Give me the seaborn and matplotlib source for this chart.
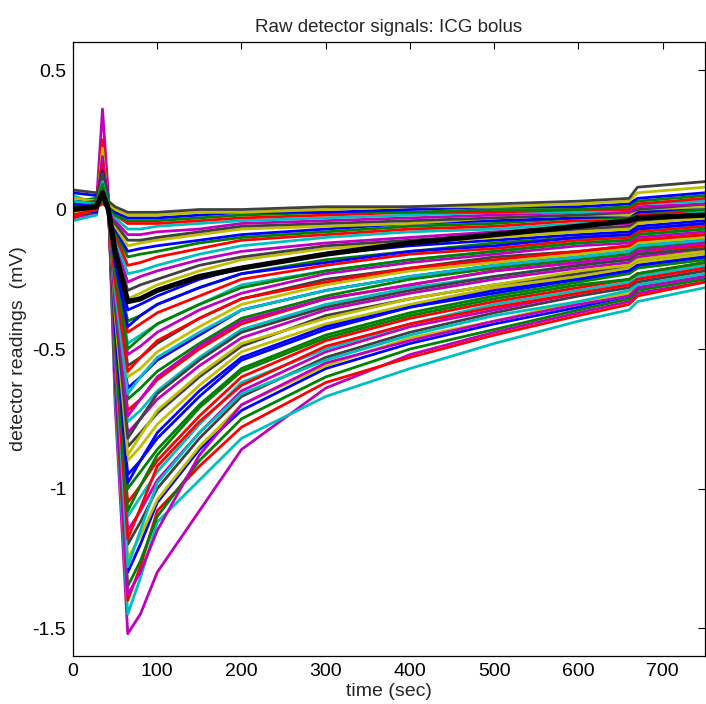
import numpy as np
import pandas as pd
import matplotlib
matplotlib.use("Agg")
import matplotlib.pyplot as plt
import seaborn as sns

time_sec = [0, 28, 35, 42, 50, 65, 80, 100, 150, 200, 300, 400, 500, 600, 660, 670, 750]

# detector readings (mV), one list per detector
traces = [
    [0.02, 0.03, 0.36, 0.05, -0.70, -1.52, -1.45, -1.30, -1.08, -0.86, -0.64, -0.52, -0.44, -0.37, -0.33, -0.30, -0.26],
    [-0.04, -0.02, 0.22, 0.02, -0.66, -1.45, -1.32, -1.12, -0.97, -0.82, -0.67, -0.57, -0.48, -0.40, -0.36, -0.33, -0.28],
    [0.01, 0.02, 0.25, 0.03, -0.62, -1.40, -1.28, -1.08, -0.92, -0.78, -0.62, -0.53, -0.45, -0.38, -0.34, -0.31, -0.26],
    [0.00, 0.03, 0.20, 0.02, -0.60, -1.35, -1.26, -1.10, -0.90, -0.75, -0.60, -0.50, -0.43, -0.36, -0.32, -0.29, -0.25],
    [0.03, 0.01, 0.18, 0.04, -0.58, -1.30, -1.20, -1.05, -0.86, -0.72, -0.57, -0.48, -0.41, -0.35, -0.31, -0.28, -0.24],
    [-0.02, 0.00, 0.22, 0.01, -0.56, -1.25, -1.17, -1.04, -0.85, -0.70, -0.56, -0.46, -0.40, -0.33, -0.30, -0.27, -0.23],
    [0.02, 0.04, 0.15, 0.03, -0.54, -1.20, -1.12, -1.00, -0.82, -0.67, -0.53, -0.44, -0.37, -0.31, -0.28, -0.26, -0.22],
    [-0.03, -0.01, 0.19, 0.00, -0.52, -1.15, -1.08, -0.97, -0.80, -0.65, -0.51, -0.42, -0.36, -0.30, -0.27, -0.25, -0.21],
    [0.04, 0.02, 0.14, 0.04, -0.50, -1.10, -1.03, -0.94, -0.77, -0.62, -0.50, -0.41, -0.34, -0.29, -0.26, -0.24, -0.20],
    [0.01, 0.00, 0.17, 0.02, -0.47, -1.05, -0.99, -0.90, -0.74, -0.60, -0.47, -0.39, -0.33, -0.28, -0.25, -0.23, -0.19],
    [-0.01, 0.02, 0.12, 0.01, -0.45, -1.00, -0.94, -0.86, -0.70, -0.57, -0.45, -0.37, -0.31, -0.26, -0.23, -0.21, -0.18],
    [0.03, 0.01, 0.16, 0.03, -0.43, -0.95, -0.90, -0.82, -0.67, -0.54, -0.43, -0.35, -0.30, -0.25, -0.22, -0.20, -0.17],
    [0.00, 0.03, 0.13, 0.02, -0.41, -0.90, -0.85, -0.77, -0.63, -0.51, -0.41, -0.34, -0.28, -0.24, -0.21, -0.19, -0.16],
    [-0.02, -0.01, 0.15, 0.00, -0.38, -0.85, -0.80, -0.73, -0.60, -0.49, -0.38, -0.32, -0.27, -0.23, -0.20, -0.18, -0.15],
    [0.02, 0.02, 0.11, 0.03, -0.36, -0.80, -0.75, -0.68, -0.56, -0.46, -0.36, -0.30, -0.25, -0.21, -0.19, -0.17, -0.14],
    [0.01, 0.00, 0.14, 0.01, -0.34, -0.76, -0.72, -0.65, -0.53, -0.43, -0.34, -0.28, -0.24, -0.20, -0.18, -0.16, -0.13],
    [-0.03, 0.01, 0.10, 0.02, -0.32, -0.72, -0.68, -0.61, -0.50, -0.41, -0.32, -0.27, -0.22, -0.19, -0.17, -0.15, -0.13],
    [0.03, 0.02, 0.12, 0.02, -0.31, -0.68, -0.64, -0.58, -0.48, -0.39, -0.31, -0.25, -0.21, -0.18, -0.16, -0.14, -0.12],
    [0.00, -0.01, 0.09, 0.00, -0.29, -0.64, -0.60, -0.54, -0.45, -0.36, -0.29, -0.24, -0.20, -0.17, -0.15, -0.13, -0.11],
    [0.02, 0.03, 0.11, 0.03, -0.27, -0.60, -0.57, -0.51, -0.42, -0.34, -0.27, -0.22, -0.19, -0.16, -0.14, -0.12, -0.10],
    [-0.01, 0.01, 0.08, 0.01, -0.25, -0.56, -0.53, -0.48, -0.39, -0.32, -0.25, -0.21, -0.17, -0.15, -0.13, -0.11, -0.09],
    [0.02, 0.00, 0.10, 0.02, -0.23, -0.52, -0.49, -0.44, -0.36, -0.30, -0.23, -0.19, -0.16, -0.13, -0.12, -0.10, -0.08],
    [0.04, 0.02, 0.07, 0.03, -0.22, -0.48, -0.45, -0.41, -0.34, -0.27, -0.22, -0.18, -0.15, -0.12, -0.11, -0.09, -0.07],
    [-0.02, 0.00, 0.09, 0.00, -0.20, -0.44, -0.41, -0.37, -0.31, -0.25, -0.20, -0.16, -0.14, -0.11, -0.10, -0.08, -0.06],
    [0.01, 0.02, 0.06, 0.02, -0.18, -0.40, -0.38, -0.34, -0.28, -0.23, -0.18, -0.15, -0.12, -0.10, -0.09, -0.07, -0.05],
    [0.03, 0.01, 0.08, 0.02, -0.16, -0.36, -0.34, -0.31, -0.25, -0.21, -0.16, -0.13, -0.11, -0.09, -0.08, -0.06, -0.04],
    [0.00, 0.03, 0.06, 0.01, -0.14, -0.32, -0.30, -0.27, -0.22, -0.18, -0.14, -0.12, -0.10, -0.08, -0.07, -0.05, -0.03],
    [-0.01, 0.01, 0.07, 0.00, -0.13, -0.29, -0.27, -0.25, -0.20, -0.17, -0.13, -0.11, -0.09, -0.07, -0.06, -0.04, -0.02],
    [0.02, 0.00, 0.05, 0.02, -0.12, -0.26, -0.24, -0.22, -0.18, -0.15, -0.12, -0.10, -0.08, -0.06, -0.05, -0.03, -0.02],
    [0.04, 0.03, 0.06, 0.03, -0.10, -0.23, -0.22, -0.20, -0.16, -0.13, -0.10, -0.08, -0.07, -0.05, -0.04, -0.02, -0.01],
    [0.00, 0.02, 0.04, 0.01, -0.09, -0.20, -0.19, -0.17, -0.14, -0.11, -0.09, -0.07, -0.06, -0.04, -0.04, -0.02, 0.00],
    [-0.02, 0.00, 0.05, 0.00, -0.08, -0.17, -0.16, -0.15, -0.12, -0.10, -0.08, -0.06, -0.05, -0.03, -0.03, -0.01, 0.00],
    [0.03, 0.02, 0.04, 0.02, -0.07, -0.15, -0.14, -0.13, -0.11, -0.09, -0.07, -0.05, -0.04, -0.03, -0.02, -0.01, 0.01],
    [0.01, 0.04, 0.05, 0.02, -0.06, -0.13, -0.12, -0.11, -0.09, -0.07, -0.06, -0.05, -0.03, -0.02, -0.02, 0.00, 0.01],
    [-0.01, 0.01, 0.03, 0.00, -0.05, -0.11, -0.11, -0.10, -0.08, -0.06, -0.05, -0.04, -0.03, -0.02, -0.01, 0.00, 0.02],
    [0.02, 0.03, 0.04, 0.02, -0.04, -0.09, -0.09, -0.08, -0.07, -0.05, -0.04, -0.03, -0.02, -0.01, -0.01, 0.01, 0.02],
    [0.05, 0.02, 0.03, 0.02, -0.03, -0.07, -0.07, -0.06, -0.05, -0.04, -0.03, -0.02, -0.01, -0.01, 0.00, 0.02, 0.03],
    [0.00, 0.01, 0.02, 0.01, -0.02, -0.05, -0.05, -0.05, -0.04, -0.03, -0.02, -0.01, -0.01, 0.00, 0.00, 0.02, 0.04],
    [0.03, 0.04, 0.03, 0.02, -0.02, -0.04, -0.04, -0.04, -0.03, -0.02, -0.01, -0.01, 0.00, 0.00, 0.01, 0.03, 0.05],
    [0.06, 0.05, 0.04, 0.03, -0.01, -0.03, -0.03, -0.03, -0.02, -0.01, -0.01, 0.00, 0.01, 0.01, 0.02, 0.04, 0.06],
    [0.04, 0.03, 0.05, 0.02, 0.00, -0.02, -0.02, -0.02, -0.01, -0.01, 0.00, 0.01, 0.01, 0.02, 0.03, 0.06, 0.08],
    [0.07, 0.06, 0.04, 0.03, 0.01, -0.01, -0.01, -0.01, 0.00, 0.00, 0.01, 0.01, 0.02, 0.03, 0.04, 0.08, 0.10],
    [0.00, 0.01, 0.18, 0.02, -0.55, -1.38, -1.30, -1.15, -0.88, -0.70, -0.55, -0.47, -0.40, -0.34, -0.31, -0.28, -0.24],
    [0.02, 0.00, 0.12, 0.03, -0.50, -1.28, -1.15, -0.98, -0.80, -0.66, -0.54, -0.45, -0.38, -0.33, -0.29, -0.27, -0.23],
    [-0.03, 0.01, 0.16, 0.01, -0.48, -1.18, -1.07, -0.92, -0.76, -0.63, -0.49, -0.41, -0.35, -0.30, -0.27, -0.25, -0.21],
    [0.01, 0.03, 0.11, 0.02, -0.46, -1.08, -0.99, -0.88, -0.71, -0.58, -0.46, -0.38, -0.32, -0.27, -0.25, -0.23, -0.19],
    [0.03, 0.02, 0.14, 0.02, -0.42, -0.98, -0.90, -0.80, -0.65, -0.53, -0.42, -0.35, -0.29, -0.25, -0.22, -0.20, -0.17],
    [-0.01, 0.00, 0.09, 0.01, -0.38, -0.88, -0.81, -0.72, -0.59, -0.48, -0.39, -0.32, -0.27, -0.22, -0.20, -0.18, -0.15],
    [0.02, 0.03, 0.13, 0.03, -0.35, -0.82, -0.75, -0.66, -0.54, -0.44, -0.35, -0.29, -0.24, -0.20, -0.18, -0.16, -0.14],
    [0.00, 0.01, 0.08, 0.01, -0.32, -0.74, -0.68, -0.60, -0.49, -0.40, -0.32, -0.27, -0.22, -0.19, -0.17, -0.15, -0.12],
    [0.03, 0.02, 0.10, 0.02, -0.29, -0.66, -0.60, -0.53, -0.44, -0.36, -0.29, -0.24, -0.20, -0.17, -0.15, -0.13, -0.11],
    [-0.02, 0.00, 0.07, 0.00, -0.26, -0.58, -0.53, -0.47, -0.39, -0.32, -0.26, -0.21, -0.18, -0.15, -0.13, -0.11, -0.09],
    [0.01, 0.02, 0.09, 0.02, -0.22, -0.50, -0.46, -0.41, -0.34, -0.28, -0.22, -0.18, -0.15, -0.12, -0.11, -0.09, -0.07],
    [0.02, 0.01, 0.06, 0.01, -0.19, -0.42, -0.38, -0.34, -0.28, -0.23, -0.19, -0.15, -0.13, -0.10, -0.09, -0.07, -0.05],
]

# average over all detectors (thick black line)
mean_signal = [0.00, 0.01, 0.06, 0.00, -0.15, -0.33, -0.32, -0.29, -0.24, -0.21, -0.16, -0.12, -0.09, -0.06, -0.04, -0.03, -0.02]

x_ticks = [0, 100, 200, 300, 400, 500, 600, 700]
y_ticks = [-1.5, -1, -0.5, 0, 0.5]
y_tick_labels = ["-1.5", "-1", "-0.5", "0", "0.5"]

# old matlab colour order, cycled
matlab_colors = {
    "m": (0.75, 0, 0.75), "c": (0, 0.75, 0.75), "r": (1, 0, 0),
    "g": (0, 0.5, 0), "b": (0, 0, 1), "y": (0.75, 0.75, 0), "k": (0.25, 0.25, 0.25),
}
cycle = ["m", "c", "r", "g", "b", "y", "k"]

rows = []
for i, vals in enumerate(traces):
    for t, v in zip(time_sec, vals):
        rows.append({"trace": i, "time": t, "value": v})
df = pd.DataFrame(rows)
palette = [matlab_colors[cycle[i % len(cycle)]] for i in range(len(traces))]

sns.set_style("white")
plt.rcParams["font.family"] = ["Liberation Sans", "DejaVu Sans"]

fig = plt.figure(figsize=(7.06, 7.04), dpi=100)
ax = fig.add_axes([0.1034, 0.0682, 0.895, 0.872])

sns.lineplot(data=df, x="time", y="value", hue="trace", palette=palette,
             estimator=None, legend=False, linewidth=2.0, ax=ax)
sns.lineplot(x=time_sec, y=mean_signal, color="black", linewidth=3.8, ax=ax)

ax.set_xlim(0, 750)
ax.set_ylim(-1.6, 0.6)
ax.set_xticks(x_ticks)
ax.set_xticklabels([str(v) for v in x_ticks])
ax.set_yticks(y_ticks)
ax.set_yticklabels(y_tick_labels)
ax.tick_params(direction="in", length=5, width=0.8, labelsize=14,
               top=True, right=True, colors="black", pad=5)
for s in ax.spines.values():
    s.set_visible(True)
    s.set_color("black")
    s.set_linewidth(0.9)

ax.set_xlabel("time (sec)", fontsize=14, labelpad=2)
ax.set_ylabel("detector readings  (mV)", fontsize=14, labelpad=4)
ax.set_title("Raw detector signals: ICG bolus", fontsize=13.5, pad=7)

fig.savefig("out.png", dpi=100)
